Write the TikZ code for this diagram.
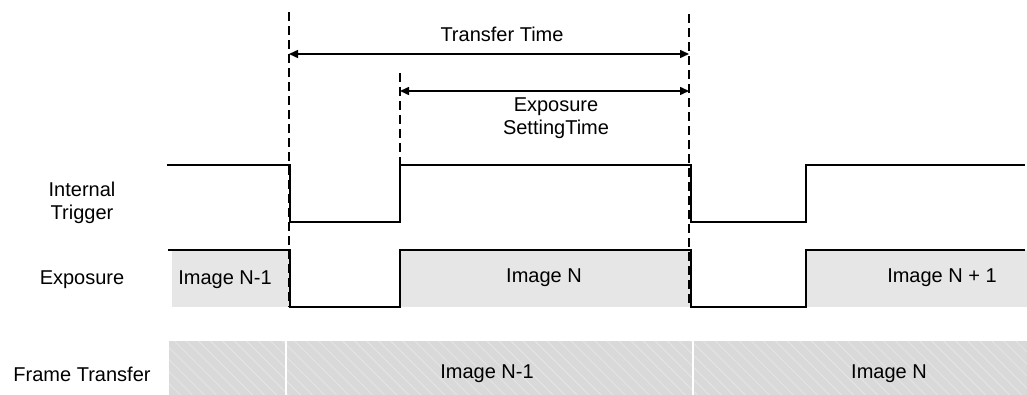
\documentclass[tikz,border=0pt]{standalone}
\usepackage{fontspec}
\setmainfont{Liberation Sans}
\usetikzlibrary{arrows.meta,patterns.meta}

\definecolor{expgray}{HTML}{E6E6E6}
\definecolor{ftgray}{HTML}{D9D9D9}
\definecolor{ftstripe}{HTML}{E6E6E6}

\begin{document}
\begin{tikzpicture}[
    x=1pt, y=-1pt,
    font=\fontsize{20}{23}\selectfont,
    lbl/.style={
        align=center,
        inner sep=0pt
    },
    wave/.style={
        draw,
        line width=1.6pt,
        line join=miter
    },
    tmark/.style={
        draw,
        line width=1.2pt,
        dash pattern=on 9pt off 5pt
    },
    tspan/.style={
        draw,
        line width=1.5pt,
        {Triangle[length=9pt,width=8pt]}-{Triangle[length=9pt,width=8pt]}
    },
    expbox/.style={
        fill=expgray
    },
    ftbox/.style={
        preaction={fill=ftgray},
        pattern={Lines[angle=-45,distance=8.5pt,line width=0.8pt]},
        pattern color=ftstripe
    }
]
    \useasboundingbox (0,0) rectangle (1027,395);

    % Row labels
    \node [lbl] (trig_lbl) at (82,203) {Internal\\Trigger};
    \node [lbl] (exp_lbl) at (82,280) {Exposure};
    \node [lbl] (ft_lbl) at (82,374) {Frame Transfer};

    % Exposure shading
    \fill [expbox] (172,250) rectangle (289,307);
    \fill [expbox] (400,250) rectangle (691,307);
    \fill [expbox] (806,250) rectangle (1027,307);

    % Frame transfer blocks
    \fill [ftbox] (169,341) rectangle (285,395);
    \fill [ftbox] (287,341) rectangle (692,395);
    \fill [ftbox] (694,341) rectangle (1027,395);

    % Time marks
    \coordinate (ta_top) at (289,12);
    \coordinate (ta_bot) at (289,307);
    \coordinate (tb_top) at (400,73);
    \coordinate (tb_bot) at (400,165);
    \coordinate (tc_top) at (689,14);
    \coordinate (tc_bot) at (689,307);
    \path [tmark] (ta_top) -- (ta_bot);
    \path [tmark] (tb_top) -- (tb_bot);
    \path [tmark] (tc_top) -- (tc_bot);

    % Spans
    \coordinate (ta_tr) at (289,54);
    \coordinate (tc_tr) at (689,54);
    \coordinate (tb_es) at (400,91);
    \coordinate (tc_es) at (689,91);
    \path [tspan] (ta_tr) -- (tc_tr);
    \path [tspan] (tb_es) -- (tc_es);
    \node [lbl] (tr_time) at (502,34) {Transfer Time};
    \node [lbl] (es_time) at (556,118) {Exposure\\SettingTime};

    % Waveforms
    \path [wave] (167,165) -- (290,165) -- (290,222) -- (400,222) -- (400,165)
        -- (691,165) -- (691,222) -- (806,222) -- (806,165) -- (1025,165);
    \path [wave] (168,250) -- (290,250) -- (290,307) -- (400,307) -- (400,250)
        -- (691,250) -- (691,307) -- (806,307) -- (806,250) -- (1025,250);

    % Image labels
    \node [lbl] (exp_prev) at (225,280) {Image N-1};
    \node [lbl] (exp_cur) at (544,278) {Image N};
    \node [lbl] (exp_next) at (942,278) {Image N + 1};
    \node [lbl] (ft_prev) at (487,374) {Image N-1};
    \node [lbl] (ft_cur) at (889,374) {Image N};

\end{tikzpicture}
\end{document}
